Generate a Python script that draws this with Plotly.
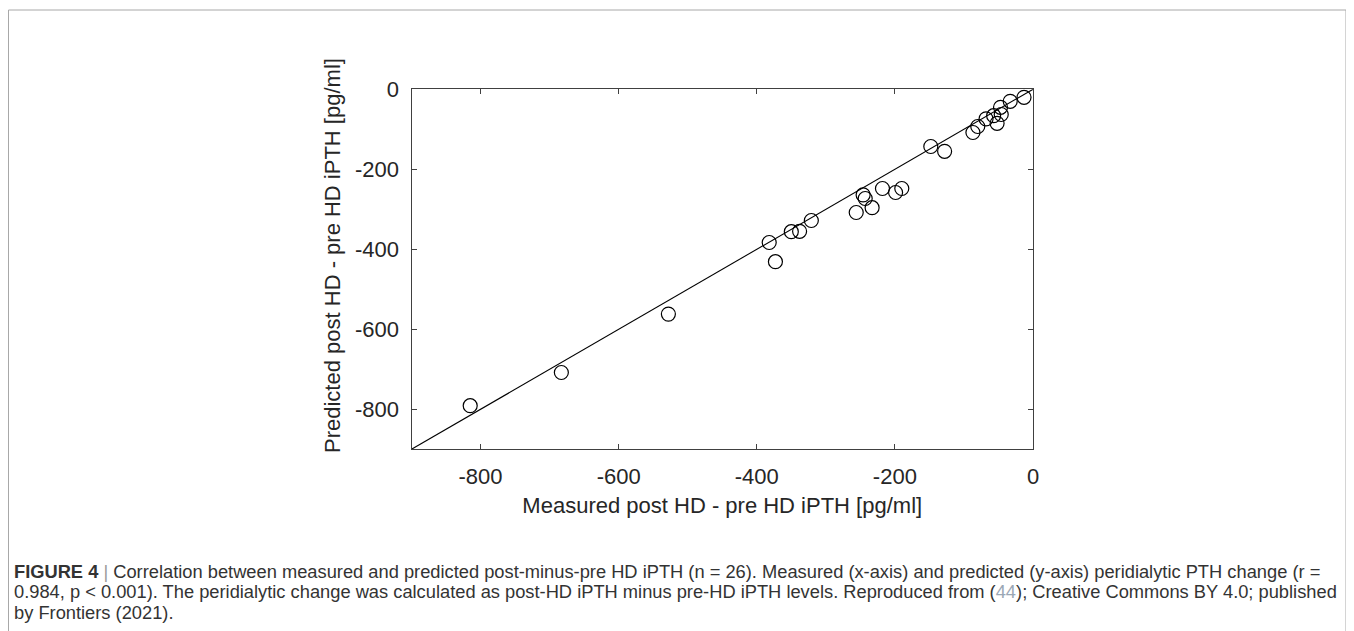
import plotly.graph_objects as go

measured = [-13, -33, -47, -46, -57, -52, -68, -80, -87, -148, -128, -218, -199, -190,
            -246, -243, -233, -256, -321, -338, -350, -382, -373, -528, -683, -815]
predicted = [-20, -30, -45, -63, -66, -85, -74, -93, -108, -143, -155, -248, -258, -248,
             -264, -273, -296, -308, -328, -355, -356, -383, -431, -562, -708, -791]
fit_x = [-900, 0]
fit_y = [-900, 0]
tick_vals = [-800, -600, -400, -200, 0]
tick_text = ["-800", "-600", "-400", "-200", "0"]

# page has an 8px body margin; work in page coordinates minus OFF
OFF = 8
W, H = 1354 - OFF, 631 - OFF
x0, x1 = 411.5 - OFF, 1033.0 - OFF
y0, y1 = 89.3 - OFF, 449.3 - OFF

fig = go.Figure()
fig.add_trace(go.Scatter(x=fit_x, y=fit_y, mode="lines",
                         line=dict(color="black", width=1.1), showlegend=False, hoverinfo="skip"))
fig.add_trace(go.Scatter(x=measured, y=predicted, mode="markers",
                         marker=dict(symbol="circle-open", size=14, color="black",
                                     line=dict(width=1.2, color="black")),
                         showlegend=False))

axis_common = dict(
    showgrid=False, zeroline=False, showline=True, linecolor="#404040", linewidth=1,
    mirror="ticks", ticks="inside", ticklen=5, tickcolor="#404040", tickwidth=1,
    tickfont=dict(family="Liberation Sans, Arial", size=22, color="#262626"),
    tickvals=tick_vals, ticktext=tick_text,
)

fig.update_xaxes(range=[-900, 0], domain=[x0 / W, x1 / W],
                 title=dict(text="Measured post HD - pre HD iPTH [pg/ml]",
                            font=dict(family="Liberation Sans, Arial", size=22, color="#262626"),
                            standoff=9),
                 ticklabelstandoff=7,
                 **axis_common)
fig.update_yaxes(range=[-900, 0], domain=[1 - y1 / H, 1 - y0 / H],
                 ticklabelstandoff=7,
                 **axis_common)

# y-axis title (placed as in the reference, slightly above the plot centre)
fig.add_annotation(text="Predicted post HD - pre HD iPTH [pg/ml]", textangle=-90,
                   xref="paper", yref="paper", x=(333 - OFF) / W, y=1 - (256 - OFF) / H,
                   xanchor="center", yanchor="middle", showarrow=False,
                   font=dict(family="Liberation Sans, Arial", size=22, color="#262626"))

# outer frame
fig.add_shape(type="rect", xref="paper", yref="paper",
              x0=(8 - OFF + 0.5) / W, x1=(1346 - OFF) / W, y0=-0.05, y1=1 - (10 - OFF) / H,
              line=dict(color="#a8a8a8", width=1), fillcolor="rgba(0,0,0,0)")

cap_font = dict(family="Liberation Sans, Arial", size=18.3, color="#333333")
lines = [
    "<b>FIGURE 4</b> <span style='color:#999'>|</span> Correlation between measured and predicted post-minus-pre HD iPTH (n = 26). Measured (x-axis) and predicted (y-axis) peridialytic PTH change (r =",
    "0.984, p < 0.001). The peridialytic change was calculated as post-HD iPTH minus pre-HD iPTH levels. Reproduced from (<span style='color:#9aa7b5'>44</span>); Creative Commons BY 4.0; published",
    "by Frontiers (2021).",
]
for i, t in enumerate(lines):
    fig.add_annotation(text=t, xref="paper", yref="paper", x=(12 - OFF) / W,
                       y=1 - (571 + 20.5 * i - OFF) / H,
                       xanchor="left", yanchor="middle", showarrow=False, font=cap_font, align="left")

fig.update_layout(width=W, height=H, margin=dict(l=0, r=0, t=0, b=0, autoexpand=False),
                  paper_bgcolor="white", plot_bgcolor="white")

fig.write_html("out.html")
